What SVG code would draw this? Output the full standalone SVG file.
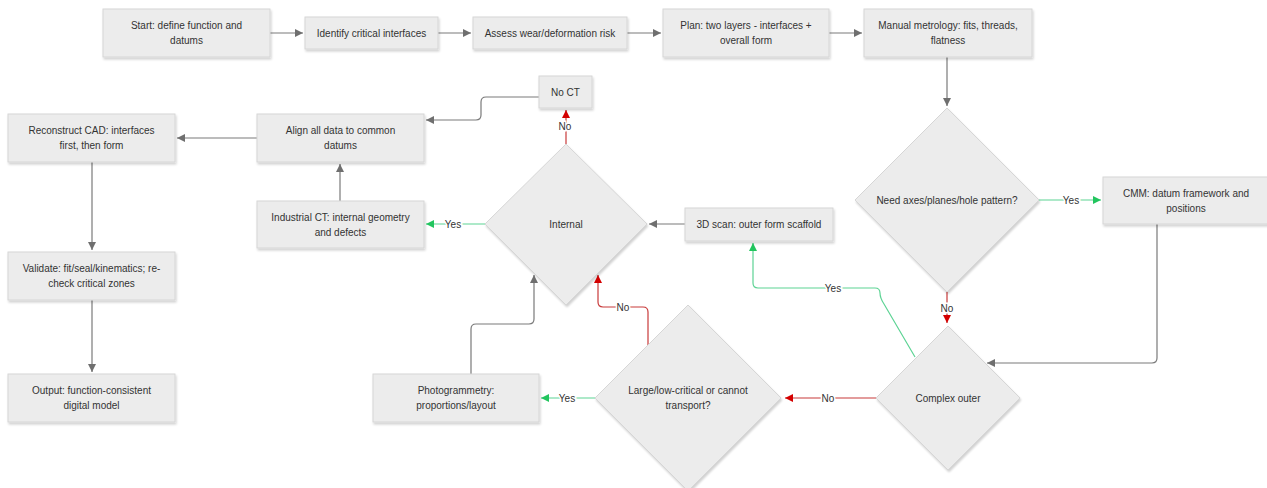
<svg xmlns="http://www.w3.org/2000/svg" width="1267" height="488" viewBox="0 0 1267 488">
<defs>
<filter id="sh" x="-10%" y="-10%" width="130%" height="140%">
<feDropShadow dx="1" dy="2" stdDeviation="1.2" flood-color="#000" flood-opacity="0.18"/>
</filter>
<marker id="ag" markerUnits="userSpaceOnUse" markerWidth="9" markerHeight="9" refX="8" refY="4" orient="auto"><path d="M0,0 L8,4 L0,8 z" fill="#6f6f6f"/></marker>
<marker id="agr" markerUnits="userSpaceOnUse" markerWidth="9" markerHeight="9" refX="8" refY="4" orient="auto"><path d="M0,0 L8,4 L0,8 z" fill="#22c55e"/></marker>
<marker id="ar" markerUnits="userSpaceOnUse" markerWidth="9" markerHeight="9" refX="8" refY="4" orient="auto"><path d="M0,0 L8,4 L0,8 z" fill="#d40000"/></marker>
</defs>
<style>
.box{fill:#ececec;stroke:#d6d6d6;stroke-width:1;filter:url(#sh)}
.t{font-family:"Liberation Sans",Arial,sans-serif;font-size:10px;fill:#333;text-anchor:middle}
.c{fill:none;stroke-width:1.2}
.g{stroke:#7a7a7a;marker-end:url(#ag)}
.gr{stroke:#5dd394;marker-end:url(#agr)}
.r{stroke:#c83a3a;marker-end:url(#ar)}
.lb{font-family:"Liberation Sans",Arial,sans-serif;font-size:10px;fill:#333;text-anchor:middle;stroke:#fff;stroke-width:3px;paint-order:stroke}
</style>
<rect width="1267" height="488" fill="#fff"/>
<g id="connectors">
<path class="c g" d="M270,33 H303"/>
<path class="c g" d="M438,33 H471"/>
<path class="c g" d="M627,33 H661"/>
<path class="c g" d="M829,33 H862"/>
<path class="c g" d="M947,57 V106"/>
<path class="c gr" d="M1039,200 H1101"/>
<path class="c g" d="M1157,224 V358 Q1157,363 1152,363 H987"/>
<path class="c r" d="M947,292 V323"/>
<path class="c r" d="M876,398 H785"/>
<path class="c gr" d="M595,398 H541"/>
<path class="c g" d="M471,374 V329 Q471,324 476,324 H529 Q534,324 534,319 V275"/>
<path class="c r" d="M648,345 V312 Q648,307 643,307 H603 Q598,307 598,302 V275"/>
<path class="c gr" d="M915,357 L884,304 Q880,298 880,293 Q880,288 875,288 H758 Q753,288 753,283 V243"/>
<path class="c g" d="M685,224 H649"/>
<path class="c gr" d="M485,224 H426"/>
<path class="c r" d="M566,144 V110"/>
<path class="c g" d="M539,97 H486 Q481,97 481,102 V115 Q481,120 476,120 H426"/>
<path class="c g" d="M340,201 V164"/>
<path class="c g" d="M257,138 H177"/>
<path class="c g" d="M92,162 V250"/>
<path class="c g" d="M92,300 V372"/>
<text class="lb" x="1071" y="203.5">Yes</text>
<text class="lb" x="947" y="312">No</text>
<text class="lb" x="828" y="401.5">No</text>
<text class="lb" x="567" y="401.5">Yes</text>
<text class="lb" x="623" y="310.5">No</text>
<text class="lb" x="833" y="291.5">Yes</text>
<text class="lb" x="453" y="227.5">Yes</text>
<text class="lb" x="565" y="129.5">No</text>
</g>
<g id="n1"><rect class="box" x="103" y="9" width="167" height="48"/><text class="t" x="186.5" y="28.5">Start: define function and</text><text class="t" x="186.5" y="43.5">datums</text></g>
<g id="n2"><rect class="box" x="305" y="17" width="133" height="32"/><text class="t" x="371.5" y="36.5">Identify critical interfaces</text></g>
<g id="n3"><rect class="box" x="473" y="17" width="154" height="32"/><text class="t" x="550" y="36.5">Assess wear/deformation risk</text></g>
<g id="n4"><rect class="box" x="663" y="9" width="166" height="48"/><text class="t" x="746" y="28.5">Plan: two layers - interfaces +</text><text class="t" x="746" y="43.5">overall form</text></g>
<g id="n5"><rect class="box" x="864" y="9" width="168" height="48"/><text class="t" x="948" y="28.5">Manual metrology: fits, threads,</text><text class="t" x="948" y="43.5">flatness</text></g>
<g id="d1"><polygon class="box" points="947,108 1039,200 947,292 855,200"/><text class="t" x="947" y="203.5">Need axes/planes/hole pattern?</text></g>
<g id="n6"><rect class="box" x="1103" y="177" width="167" height="47"/><text class="t" x="1186" y="196.5">CMM: datum framework and</text><text class="t" x="1186" y="211.5">positions</text></g>
<g id="d2"><polygon class="box" points="948,326 1020,398 948,470 876,398"/><text class="t" x="948" y="401.5">Complex outer</text></g>
<g id="d3"><polygon class="box" points="688,305 781,398 688,491 595,398"/><text class="t" x="688" y="393.5">Large/low-critical or cannot</text><text class="t" x="688" y="408.5">transport?</text></g>
<g id="n7"><rect class="box" x="373" y="374" width="166" height="48"/><text class="t" x="456" y="393.5">Photogrammetry:</text><text class="t" x="456" y="408.5">proportions/layout</text></g>
<g id="d4"><polygon class="box" points="566,144 647,224 566,305 485,224"/><text class="t" x="566" y="227.5">Internal</text></g>
<g id="n8"><rect class="box" x="685" y="208" width="148" height="33"/><text class="t" x="759" y="227.5">3D scan: outer form scaffold</text></g>
<g id="n9"><rect class="box" x="257" y="201" width="167" height="47"/><text class="t" x="340.5" y="220.5">Industrial CT: internal geometry</text><text class="t" x="340.5" y="235.5">and defects</text></g>
<g id="n10"><rect class="box" x="539" y="76" width="53" height="32"/><text class="t" x="565.5" y="95.5">No CT</text></g>
<g id="n11"><rect class="box" x="257" y="114" width="167" height="48"/><text class="t" x="340.5" y="133.5">Align all data to common</text><text class="t" x="340.5" y="148.5">datums</text></g>
<g id="n12"><rect class="box" x="8" y="114" width="167" height="48"/><text class="t" x="91.5" y="133.5">Reconstruct CAD: interfaces</text><text class="t" x="91.5" y="148.5">first, then form</text></g>
<g id="n13"><rect class="box" x="8" y="252" width="167" height="48"/><text class="t" x="91.5" y="271.5">Validate: fit/seal/kinematics; re-</text><text class="t" x="91.5" y="286.5">check critical zones</text></g>
<g id="n14"><rect class="box" x="8" y="374" width="167" height="48"/><text class="t" x="91.5" y="393.5">Output: function-consistent</text><text class="t" x="91.5" y="408.5">digital model</text></g>
</svg>
